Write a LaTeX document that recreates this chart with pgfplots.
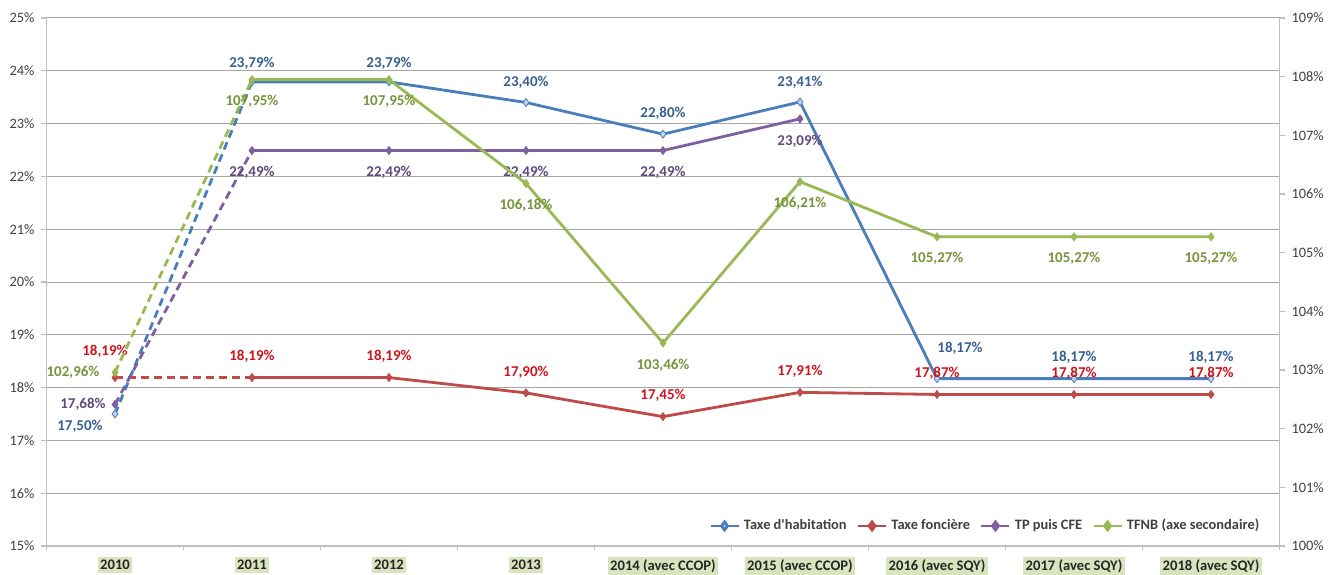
\documentclass[border=0pt]{standalone}
\usepackage{fontspec}
\setmainfont{Carlito}
\usepackage{pgfplots}
\usepackage{pgfplotstable}
\pgfplotsset{compat=1.18}

\definecolor{cTH}{HTML}{4A7EBB}
\definecolor{cTHt}{HTML}{376092}
\definecolor{cTF}{HTML}{BE4B48}
\definecolor{cTFt}{HTML}{D0141C}
\definecolor{cTP}{HTML}{7D60A0}
\definecolor{cTPt}{HTML}{604A7B}
\definecolor{cNB}{HTML}{98B954}
\definecolor{cNBt}{HTML}{77933C}
\definecolor{tickbg}{HTML}{D7E4BD}
\definecolor{gridc}{HTML}{A6A6A6}
\definecolor{axc}{HTML}{BFBFBF}
\definecolor{txt}{HTML}{404040}

% x = category index, y = value, dx/dy = label offset (pt)
\pgfplotstableread{
x y dx dy
0 17.50 -17.5 -6
1 23.79 0 9.5
2 23.79 0 9.5
3 23.40 0 10
4 22.80 0 10.5
5 23.41 0 10
6 18.17 11.5 15
7 18.17 0 10.75
8 18.17 0 10.75
}\thab
\pgfplotstableread{
x y dx dy
0 18.19 -5 13
1 18.19 0 10.5
2 18.19 0 10.5
3 17.90 0 10.5
4 17.45 0 10.5
5 17.91 0 10.5
6 17.87 0 10.5
7 17.87 0 10.5
8 17.87 0 10.5
}\tfon
\pgfplotstableread{
x y dx dy
0 17.68 -16 0
1 22.49 0 -10.75
2 22.49 0 -10.75
3 22.49 0 -10.75
4 22.49 0 -10.75
5 23.09 0 -11
}\tpcfe
\pgfplotstableread{
x y dx dy
0 102.96 -21 0
1 107.95 0 -10.75
2 107.95 0 -10.75
3 106.18 0 -11
4 103.46 0 -11
5 106.21 0 -11
6 105.27 0 -11
7 105.27 0 -11
8 105.27 0 -11
}\tfnb

\pgfplotsset{
  ln/.style={color=#1, line width=1.4pt, mark=none, forget plot},
  dsh/.style={ln=#1, dash pattern=on 4pt off 2.5pt, restrict x to domain=0:1},
  lbl/.style 2 args={only marks, mark=diamond*, mark size=2pt, color=#1, forget plot,
    point meta=y,
    nodes near coords={\pgfmathprintnumber[use comma,fixed,fixed zerofill,precision=2]{\pgfplotspointmeta}\%},
    visualization depends on={\thisrow{dx}\as\dx},
    visualization depends on={\thisrow{dy}\as\dy},
    every node near coord/.append style={anchor=center, xshift=\dx, yshift=\dy,
      font=\bfseries\fontsize{7.5}{8}\selectfont, text=#2}},
  base/.style={at={(23.25pt,14pt)}, anchor=south west,
    scale only axis, width=616.5pt, height=264pt,
    xmin=-0.5, xmax=8.5, clip=false,
    axis line style={draw=axc, line width=0.6pt, -},
    tick align=outside, major tick length=2.5pt, minor tick length=2pt,
    ytick style={draw=axc, line width=0.6pt},
    tick label style={font=\fontsize{7.2}{8}\selectfont, text=txt},
    yticklabel={\pgfmathprintnumber{\tick}\%},
    /pgf/number format/assume math mode=true},
}

\begin{document}
\begin{tikzpicture}
\begin{axis}[base,
  ymin=15, ymax=25, ytick={15,...,25},
  axis x line*=bottom, axis y line*=left,
  xtick={0,...,8},
  xticklabels={2010,2011,2012,2013,2014 (avec CCOP),2015 (avec CCOP),2016 (avec SQY),2017 (avec SQY),2018 (avec SQY)},
  minor xtick={-0.5,0.5,...,8.5},
  major x tick style={draw=none},
  minor x tick style={draw=axc, line width=0.6pt},
  ymajorgrids, major grid style={draw=gridc, line width=0.5pt},
  xticklabel style={font=\bfseries\fontsize{7.3}{8}\selectfont, fill=tickbg,
    inner xsep=1.2pt, inner ysep=1.6pt, yshift=-2.6pt, text=black!85},
]
\addplot[dsh=cTH] table[x=x,y=y]{\thab};
\addplot[ln=cTH, restrict x to domain=1:8] table[x=x,y=y]{\thab};
\addplot[dsh=cTF] table[x=x,y=y]{\tfon};
\addplot[ln=cTF, restrict x to domain=1:8] table[x=x,y=y]{\tfon};
\addplot[dsh=cTP] table[x=x,y=y]{\tpcfe};
\addplot[ln=cTP, restrict x to domain=1:8] table[x=x,y=y]{\tpcfe};
\addplot[lbl={cTH}{cTHt}, mark options={fill=cTH!35!white, draw=cTH}] table[x=x,y=y]{\thab};
\addplot[lbl={cTF}{cTFt}] table[x=x,y=y]{\tfon};
\addplot[lbl={cTP}{cTPt}] table[x=x,y=y]{\tpcfe};
\end{axis}
\begin{axis}[base,
  ymin=100, ymax=109, ytick={100,...,109},
  axis x line=none, axis y line*=right,
  legend style={draw=none, fill=none, at={(0.992,0.038)}, anchor=east,
    legend columns=-1, font=\bfseries\fontsize{7.2}{8}\selectfont, text=txt,
    /tikz/every even column/.append style={column sep=3pt}},
  legend image code/.code={\draw[mark repeat=2, mark phase=2, #1] plot coordinates {(0pt,0pt) (7pt,0pt) (14pt,0pt)};},
]
\addplot[dsh=cNB] table[x=x,y=y]{\tfnb};
\addplot[ln=cNB, restrict x to domain=1:8] table[x=x,y=y]{\tfnb};
\addplot[lbl={cNB}{cNBt}] table[x=x,y=y]{\tfnb};
\addlegendimage{cTH, line width=1.4pt, mark=diamond*, mark size=2pt, mark options={fill=cTH!35!white, draw=cTH}}
\addlegendentry{Taxe d\textquotesingle habitation}
\addlegendimage{cTF, line width=1.4pt, mark=diamond*, mark size=2pt}
\addlegendentry{Taxe foncière}
\addlegendimage{cTP, line width=1.4pt, mark=diamond*, mark size=2pt}
\addlegendentry{TP puis CFE}
\addlegendimage{cNB, line width=1.4pt, mark=diamond*, mark size=2pt}
\addlegendentry{TFNB (axe secondaire)}
\end{axis}
\pgfresetboundingbox
\useasboundingbox (0,0) rectangle (672pt,287pt);
\end{tikzpicture}
\end{document}
